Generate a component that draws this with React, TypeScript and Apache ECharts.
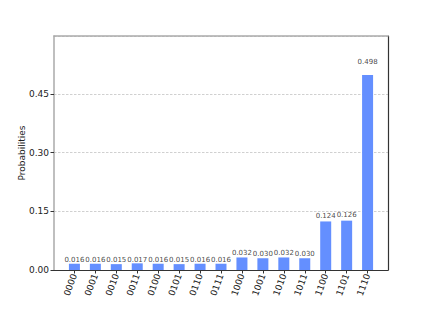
import React, { useEffect, useRef } from "react";
import * as echarts from "echarts";

const categories = [
  "0000", "0001", "0010", "0011", "0100", "0101", "0110", "0111",
  "1000", "1001", "1010", "1011", "1100", "1101", "1110",
];
const probabilities = [
  0.016, 0.016, 0.015, 0.017, 0.016, 0.015, 0.016, 0.016,
  0.032, 0.03, 0.032, 0.03, 0.124, 0.126, 0.498,
];
const yTicks = [0, 0.15, 0.3, 0.45];

export default function App() {
  const ref = useRef<HTMLDivElement>(null);
  useEffect(() => {
    if (!ref.current) return;
    document.body.style.margin = "0";
    const chart = echarts.init(ref.current, null, { renderer: "svg" });
    const maxVal = Math.max(...probabilities) * 1.2;
    const idx = categories.map((_, i) => i);
    const font = "DejaVu Sans";
    chart.setOption({
      animation: false,
      textStyle: { fontFamily: font },
      grid: { left: 54, right: 44, top: 36, bottom: 39 },
      xAxis: [
        {
          type: "value",
          min: -0.975,
          max: categories.length - 1 + 0.975,
          splitLine: { show: false },
          axisLine: { onZero: false, lineStyle: { color: "#333", width: 1.2 } },
          axisTick: {
            customValues: idx,
            length: 3.5,
            lineStyle: { color: "#333" },
          },
          axisLabel: {
            customValues: idx,
            rotate: 70,
            margin: 4,
            fontSize: 9,
            color: "#222",
            fontFamily: font,
            formatter: (v: number) => categories[Math.round(v)] ?? "",
          },
        },
        {
          type: "value",
          position: "top",
          min: -0.975,
          max: categories.length - 1 + 0.975,
          splitLine: { show: false },
          axisLine: { show: true, onZero: false, lineStyle: { color: "#aaa", width: 1.5 } },
          axisTick: { show: false },
          axisLabel: { show: false },
        },
      ],
      yAxis: [
        {
          type: "value",
          min: 0,
          max: maxVal,
          interval: 0.15,
          name: "Probabilities",
          nameLocation: "middle",
          nameGap: 28,
          nameMoveOverlap: false,
          nameTextStyle: { fontSize: 9, color: "#222", fontFamily: font },
          axisLine: { show: true, onZero: false, lineStyle: { color: "#aaa", width: 1.5 } },
          axisTick: { show: true, length: 3.5, lineStyle: { color: "#333" } },
          axisLabel: {
            margin: 5,
            fontSize: 9,
            color: "#222",
            fontFamily: font,
            showMaxLabel: false,
            formatter: (v: number) =>
              yTicks.some((t) => Math.abs(t - v) < 1e-9) ? v.toFixed(2) : "",
          },
          splitLine: {
            show: true,
            lineStyle: { color: "#c4c4c4", type: [2.5, 1.5], width: 0.8 },
          },
        },
        {
          type: "value",
          position: "right",
          min: 0,
          max: maxVal,
          splitLine: { show: false },
          axisLine: { show: true, onZero: false, lineStyle: { color: "#333", width: 1.2 } },
          axisTick: { show: false },
          axisLabel: { show: false },
        },
      ],
      series: [
        {
          type: "bar",
          xAxisIndex: 0,
          yAxisIndex: 0,
          barWidth: 11,
          itemStyle: { color: "#648fff" },
          data: probabilities.map((p, i) => [i, p]),
          z: 3,
        },
        {
          type: "scatter",
          xAxisIndex: 0,
          yAxisIndex: 0,
          symbolSize: 0,
          silent: true,
          data: probabilities.map((p, i) => [i, p * 1.05, p]),
          label: {
            show: true,
            position: "top",
            distance: 0,
            fontSize: 7,
            color: "#111",
            fontFamily: font,
            formatter: (d: any) => d.value[2].toFixed(3),
          },
          z: 4,
        },
      ],
    });
    return () => chart.dispose();
  }, []);
  return <div ref={ref} style={{ width: 432, height: 309 }} />;
}
